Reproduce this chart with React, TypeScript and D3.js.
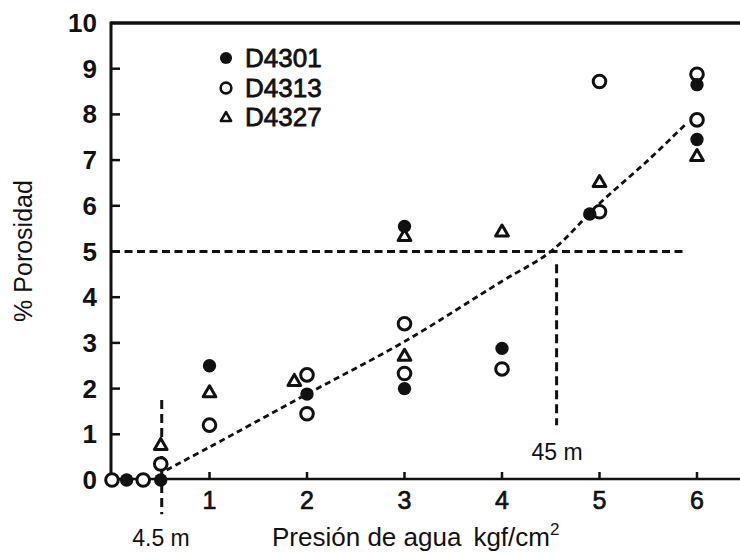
import React from "react";
import * as d3 from "d3";

const W = 740;
const H = 553;

const yTicks = [0, 1, 2, 3, 4, 5, 6, 7, 8, 9, 10];
const xTicks = [1, 2, 3, 4, 5, 6];

const seriesNames = ["D4301", "D4313", "D4327"];

const d4301: [number, number][] = [
  [0.15, 0], [0.5, 0], [1, 2.5], [2, 1.88], [3, 5.55], [3, 2.0],
  [4, 2.88], [4.9, 5.82], [6, 8.65], [6, 7.45],
];
const d4313: [number, number][] = [
  [0, 0], [0.32, 0], [0.5, 0.35], [1, 1.2], [2, 2.3], [2, 1.45],
  [3, 3.42], [3, 2.33], [4, 2.43], [5, 8.72], [5, 5.87], [6, 8.88], [6, 7.88],
];
const d4327: [number, number][] = [
  [0.5, 0.75], [1, 1.9], [1.87, 2.15], [3, 5.32], [3, 2.7], [4, 5.42],
  [5, 6.5], [6, 7.07],
];

const trend: [number, number][] = [
  [0.56, 0.22], [1, 0.72], [2, 1.88], [3, 3.03], [4, 4.35], [4.5, 5.0],
  [5, 6.05], [5.5, 7.0], [5.9, 7.82],
];

const hLine = { y: 5, x0: 0, x1: 5.88 };
const vLine1 = { x: 0.51, y0: 1.75, y1: -0.75 };
const vLine2 = { x: 4.56, y0: 4.72, y1: 1.2 };

const x = d3.scaleLinear().domain([0, 6]).range([112, 697]);
const y = d3.scaleLinear().domain([0, 10]).range([480, 23]);

const FONT = "'Liberation Sans', Arial, Helvetica, sans-serif";
const INK = "#111";

const circlePath = d3.symbol().type(d3.symbolCircle).size(125)()!;
const dotPath = d3.symbol().type(d3.symbolCircle).size(140)()!;
const triPath = d3.symbol().type(d3.symbolTriangle).size(70)()!;
const lgCircle = d3.symbol().type(d3.symbolCircle).size(90)()!;
const lgDot = d3.symbol().type(d3.symbolCircle).size(115)()!;
const lgTri = d3.symbol().type(d3.symbolTriangle).size(45)()!;

export default function App() {
  const line = d3
    .line<[number, number]>()
    .x((d) => x(d[0]))
    .y((d) => y(d[1]))
    .curve(d3.curveCatmullRom.alpha(0.5));

  const x0 = x(0) - 1;
  const yTop = y(10);
  const yBot = y(0) - 1;

  return (
    <svg
      width={W}
      height={H}
      style={{ position: "absolute", left: 0, top: 0, background: "#fff" }}
      fontFamily={FONT}
    >
      <rect x={0} y={0} width={W} height={H} fill="#fff" />
      {/* frame */}
      <line x1={x0} x2={W} y1={yTop} y2={yTop} stroke={INK} strokeWidth={3.5} />
      <line x1={x0} x2={x0} y1={yTop - 1.5} y2={yBot} stroke={INK} strokeWidth={3} />
      <line x1={x0 - 1.5} x2={W} y1={yBot} y2={yBot} stroke={INK} strokeWidth={2.6} />

      {/* y ticks */}
      {yTicks.map((t) => (
        <g key={"yt" + t}>
          {t > 0 && t < 10 && (
            <line x1={x0} x2={x0 + 9} y1={y(t)} y2={y(t)} stroke={INK} strokeWidth={2.5} />
          )}
          <text
            x={x0 - 14}
            y={y(t)}
            textAnchor="end"
            dominantBaseline="central"
            fontSize={26}
            fontWeight="bold"
            fill={INK}
          >
            {t}
          </text>
        </g>
      ))}

      {/* x ticks */}
      {xTicks.map((t) => (
        <g key={"xt" + t}>
          <line x1={x(t)} x2={x(t)} y1={yBot} y2={yBot - 7} stroke={INK} strokeWidth={2.5} />
          <text
            x={x(t)}
            y={yBot + 21}
            textAnchor="middle"
            dominantBaseline="central"
            fontSize={25}
            fill={INK}
            stroke={INK}
            strokeWidth={0.7}
          >
            {t}
          </text>
        </g>
      ))}

      {/* reference dashed lines */}
      <line
        x1={x(hLine.x0)}
        x2={x(hLine.x1)}
        y1={y(hLine.y)}
        y2={y(hLine.y)}
        stroke={INK}
        strokeWidth={3.2}
        strokeDasharray="8 4.5"
      />
      <line
        x1={x(vLine1.x)}
        x2={x(vLine1.x)}
        y1={y(vLine1.y0)}
        y2={y(vLine1.y1)}
        stroke={INK}
        strokeWidth={3}
        strokeDasharray="9 5"
      />
      <line
        x1={x(vLine2.x)}
        x2={x(vLine2.x)}
        y1={y(vLine2.y0)}
        y2={y(vLine2.y1)}
        stroke={INK}
        strokeWidth={3}
        strokeDasharray="9 5"
      />

      {/* trend curve */}
      <path d={line(trend) || ""} fill="none" stroke={INK} strokeWidth={2.8} strokeDasharray="6 4" />

      {/* data points */}
      {d4313.map((d, i) => (
        <path
          key={"o" + i}
          d={circlePath}
          transform={`translate(${x(d[0])},${y(d[1])})`}
          fill="#fff"
          stroke={INK}
          strokeWidth={3}
        />
      ))}
      {d4327.map((d, i) => (
        <path
          key={"t" + i}
          d={triPath}
          transform={`translate(${x(d[0])},${y(d[1])})`}
          fill="#fff"
          stroke={INK}
          strokeWidth={3}
          strokeLinejoin="round"
        />
      ))}
      {d4301.map((d, i) => (
        <path
          key={"f" + i}
          d={dotPath}
          transform={`translate(${x(d[0])},${y(d[1])})`}
          fill={INK}
        />
      ))}

      {/* legend */}
      <g>
        <path d={lgDot} transform="translate(226,58)" fill={INK} />
        <path d={lgCircle} transform="translate(226,88)" fill="#fff" stroke={INK} strokeWidth={2.6} />
        <path d={lgTri} transform="translate(226,118)" fill="#fff" stroke={INK} strokeWidth={2.6} strokeLinejoin="round" />
        {seriesNames.map((n, i) => (
          <text
            key={n}
            x={245}
            y={58 + i * 29.5}
            dominantBaseline="central"
            fontSize={26}
            fill={INK}
            stroke={INK}
            strokeWidth={0.8}
          >
            {n}
          </text>
        ))}
      </g>

      {/* annotations */}
      <text x={557} y={452} textAnchor="middle" dominantBaseline="central" fontSize={23} fill={INK}>
        45 m
      </text>
      <text x={161} y={538} textAnchor="middle" dominantBaseline="central" fontSize={23} fill={INK}>
        4.5 m
      </text>

      {/* axis titles */}
      <text x={272} y={537} dominantBaseline="central" fontSize={26} fill={INK}>
        Presión de agua
        <tspan dx={12}>kgf/cm</tspan>
        <tspan fontSize={17} dy={-8}>2</tspan>
      </text>
      <text
        transform={`translate(23,251) rotate(-90)`}
        textAnchor="middle"
        dominantBaseline="central"
        fontSize={25}
        fill={INK}
      >
        % Porosidad
      </text>
    </svg>
  );
}
